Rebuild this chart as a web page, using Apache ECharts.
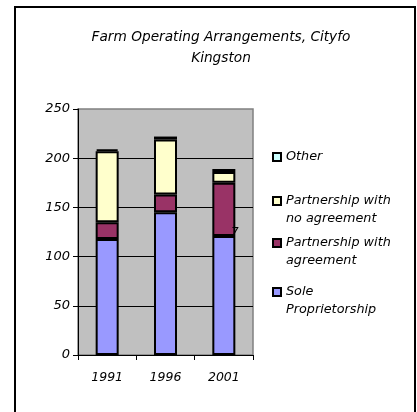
<!DOCTYPE html>
<html>
<head>
<meta charset="utf-8">
<script src="https://cdn.jsdelivr.net/npm/echarts@6/dist/echarts.min.js"></script>
<style>
  html, body { margin: 0; padding: 0; background: #fff; }
  #main { width: 417px; height: 412px; }
</style>
</head>
<body>
<div id="main"></div>
<script>
  // data
  const years = ['1991', '1996', '2001'];
  const sole = [118, 145, 121];
  const withAgreement = [17, 18, 54];
  const noAgreement = [72, 56, 11];
  const other = [2, 3, 3];
  const yTicks = [0, 50, 100, 150, 200, 250];

  const FONT = 'DejaVu Sans';

  const chart = echarts.init(document.getElementById('main'), null, {renderer: 'canvas'});

  // one legend block per item so they can sit at the Excel positions
  function legendItem(name, label, iconY, lines) {
    const L = 18;
    // two-line labels: a blank first line pushes the real first line level with the icon
    const text = lines > 1 ? ' \n' + label : label;
    const top = lines > 1 ? iconY - 1.5 * L : iconY - L / 2;
    return {
      data: [name],
      left: 272,
      top: top,
      padding: 0,
      itemWidth: 8,
      itemHeight: 8,
      itemGap: 9,
      icon: 'rect',
      selectedMode: false,
      formatter: function () { return text; },
      textStyle: {
        fontFamily: FONT, fontStyle: 'italic', fontSize: 12.8, color: '#000', lineHeight: L
      }
    };
  }

  const barStyle = (c) => ({color: c, borderColor: '#000', borderWidth: 2});

  const option = {
    backgroundColor: '#fff',
    animation: false,
    title: {
      text: 'Farm Operating Arrangements, Cityfo\nKingston',
      left: 216,
      textAlign: 'center',
      top: 22,
      textStyle: {
        fontFamily: FONT, fontStyle: 'italic', fontWeight: 'normal',
        fontSize: 13.7, lineHeight: 21, color: '#000'
      }
    },
    legend: [
      legendItem('Other', 'Other', 157, 1),
      legendItem('Partnership with no agreement', 'Partnership with\nno agreement', 201, 2),
      legendItem('Partnership with agreement', 'Partnership with\nagreement', 243, 2),
      legendItem('Sole Proprietorship', 'Sole\nProprietorship', 292, 2)
    ],
    grid: {
      left: 78, right: 164, top: 109, bottom: 57,
      show: true, backgroundColor: '#c0c0c0', borderColor: '#808080', borderWidth: 1.5
    },
    xAxis: {
      type: 'category',
      data: years,
      axisLine: {lineStyle: {color: '#000', width: 1}},
      axisTick: {show: true, length: 5, lineStyle: {color: '#000'}},
      axisLabel: {
        fontFamily: FONT, fontStyle: 'italic', fontSize: 12.5, color: '#000', margin: 16
      }
    },
    yAxis: {
      type: 'value',
      min: yTicks[0],
      max: yTicks[yTicks.length - 1],
      interval: yTicks[1] - yTicks[0],
      axisLine: {show: true, lineStyle: {color: '#000', width: 1}},
      axisTick: {show: true, length: 5, lineStyle: {color: '#000'}},
      splitLine: {show: true, showMaxLine: false, lineStyle: {color: '#000', width: 1}},
      axisLabel: {
        fontFamily: FONT, fontStyle: 'italic', fontSize: 13, color: '#000', margin: 8
      }
    },
    series: [
      {name: 'Sole Proprietorship', type: 'bar', stack: 'a', barWidth: 23,
        data: sole, itemStyle: barStyle('#9999ff')},
      {name: 'Partnership with agreement', type: 'bar', stack: 'a', barWidth: 23,
        data: withAgreement, itemStyle: barStyle('#993366')},
      {name: 'Partnership with no agreement', type: 'bar', stack: 'a', barWidth: 23,
        data: noAgreement, itemStyle: barStyle('#ffffcc')},
      {name: 'Other', type: 'bar', stack: 'a', barWidth: 23,
        data: other, itemStyle: barStyle('#ccffff')}
    ],
    graphic: [
      {
        type: 'rect', silent: true, z: 100,
        shape: {x: 15, y: 7, width: 400, height: 420},
        style: {fill: null, stroke: '#000', lineWidth: 2}
      },
      {
        // stray label next to the 2001 bar in the original
        type: 'text', x: 231, y: 227, z: 100,
        style: {text: '7', font: 'italic 12px "DejaVu Sans"', fill: '#000'}
      }
    ]
  };

  chart.setOption(option);
</script>
</body>
</html>
